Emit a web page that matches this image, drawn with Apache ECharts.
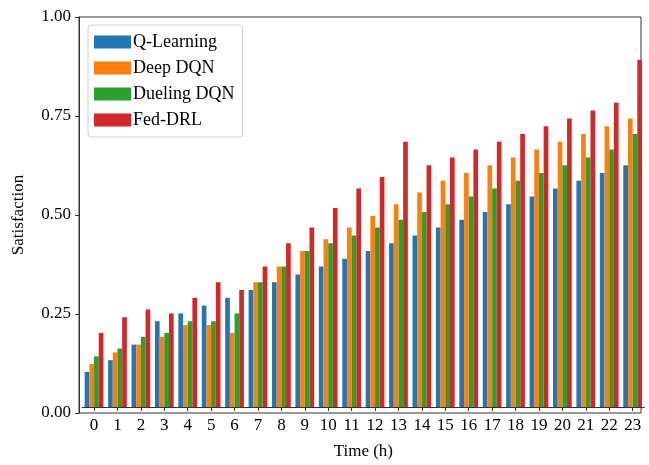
<!DOCTYPE html>
<html>
<head>
<meta charset="utf-8">
<script src="https://cdn.jsdelivr.net/npm/echarts@6/dist/echarts.min.js"></script>
<style>
html,body{margin:0;padding:0;background:#fff;}
#chart{width:649px;height:465px;}
</style>
</head>
<body>
<div id="chart"></div>
<script>
const hours = ['0','1','2','3','4','5','6','7','8','9','10','11','12','13','14','15','16','17','18','19','20','21','22','23'];
const seriesNames = ['Q-Learning','Deep DQN','Dueling DQN','Fed-DRL'];
const qLearning  = [0.09,0.12,0.16,0.22,0.24,0.26,0.28,0.30,0.32,0.34,0.36,0.38,0.40,0.42,0.44,0.46,0.48,0.50,0.52,0.54,0.56,0.58,0.60,0.62];
const deepDQN    = [0.11,0.14,0.16,0.18,0.21,0.21,0.19,0.32,0.36,0.40,0.43,0.46,0.49,0.52,0.55,0.58,0.60,0.62,0.64,0.66,0.68,0.70,0.72,0.74];
const duelingDQN = [0.13,0.15,0.18,0.19,0.22,0.22,0.24,0.32,0.36,0.40,0.42,0.44,0.46,0.48,0.50,0.52,0.54,0.56,0.58,0.60,0.62,0.64,0.66,0.70];
const fedDRL     = [0.19,0.23,0.25,0.24,0.28,0.32,0.30,0.36,0.42,0.46,0.51,0.56,0.59,0.68,0.62,0.64,0.66,0.68,0.70,0.72,0.74,0.76,0.78,0.89];
const yTicks = [0, 0.25, 0.5, 0.75, 1.0];
const colors = ['#1f77b4','#ff7f0e','#2ca02c','#d62728'];
const allData = [qLearning, deepDQN, duelingDQN, fedDRL];

const font = 'Liberation Serif, Times New Roman, serif';
const axisColor = '#333';
const chart = echarts.init(document.getElementById('chart'), null, {renderer:'canvas'});
const band = 562 / 24;
chart.setOption({
  animation: false,
  color: colors,
  grid: [
    {left: 79 + 0.6*band - band/2 + 1, top: 17, width: band*24, height: 396, show: false},
    {left: 79, top: 17, width: 562, height: 396, show: true, borderColor: axisColor, borderWidth: 1, backgroundColor: 'transparent'}
  ],
  legend: {
    data: seriesNames,
    orient: 'vertical',
    left: 88, top: 25,
    itemWidth: 37, itemHeight: 13, itemGap: 8,
    padding: [8, 8, 8, 6],
    backgroundColor: '#fff',
    borderColor: '#d0d0d0', borderWidth: 1, borderRadius: 3,
    textStyle: {fontFamily: font, fontSize: 18, color: '#000', padding: [0,0,0,-3]},
    icon: 'rect'
  },
  xAxis: [
    {type: 'category', gridIndex: 0, data: hours,
     axisLine: {show: true, lineStyle: {color: axisColor}},
     axisTick: {show: true, alignWithLabel: true, length: 4, lineStyle: {color: axisColor}},
     axisLabel: {fontFamily: font, fontSize: 17, color: '#000', margin: 10, interval: 0},
     name: 'Time (h)', nameLocation: 'middle', nameGap: 36,
     nameTextStyle: {fontFamily: font, fontSize: 17, color: '#000'}},
    {type: 'value', gridIndex: 1, show: false, min: 0, max: 1}
  ],
  yAxis: [
    {type: 'value', gridIndex: 0, min: 0, max: 1, show: false},
    {type: 'value', gridIndex: 1, min: 0, max: 1, interval: 0.25,
     axisLine: {show: true, lineStyle: {color: axisColor}},
     axisTick: {show: true, length: 4, lineStyle: {color: axisColor}},
     splitLine: {show: false},
     axisLabel: {fontFamily: font, fontSize: 17, color: '#000', margin: 8,
       formatter: v => yTicks.includes(v) ? v.toFixed(2) : ''},
     name: 'Satisfaction', nameLocation: 'middle', nameGap: 52,
     nameTextStyle: {fontFamily: font, fontSize: 17, color: '#000'}}
  ],
  series: seriesNames.map((n, i) => ({
    name: n, type: 'bar', xAxisIndex: 0, yAxisIndex: 0,
    data: allData[i],
    barGap: '0%', barCategoryGap: '20%',
    itemStyle: {color: colors[i]}
  }))
});
</script>
</body>
</html>
